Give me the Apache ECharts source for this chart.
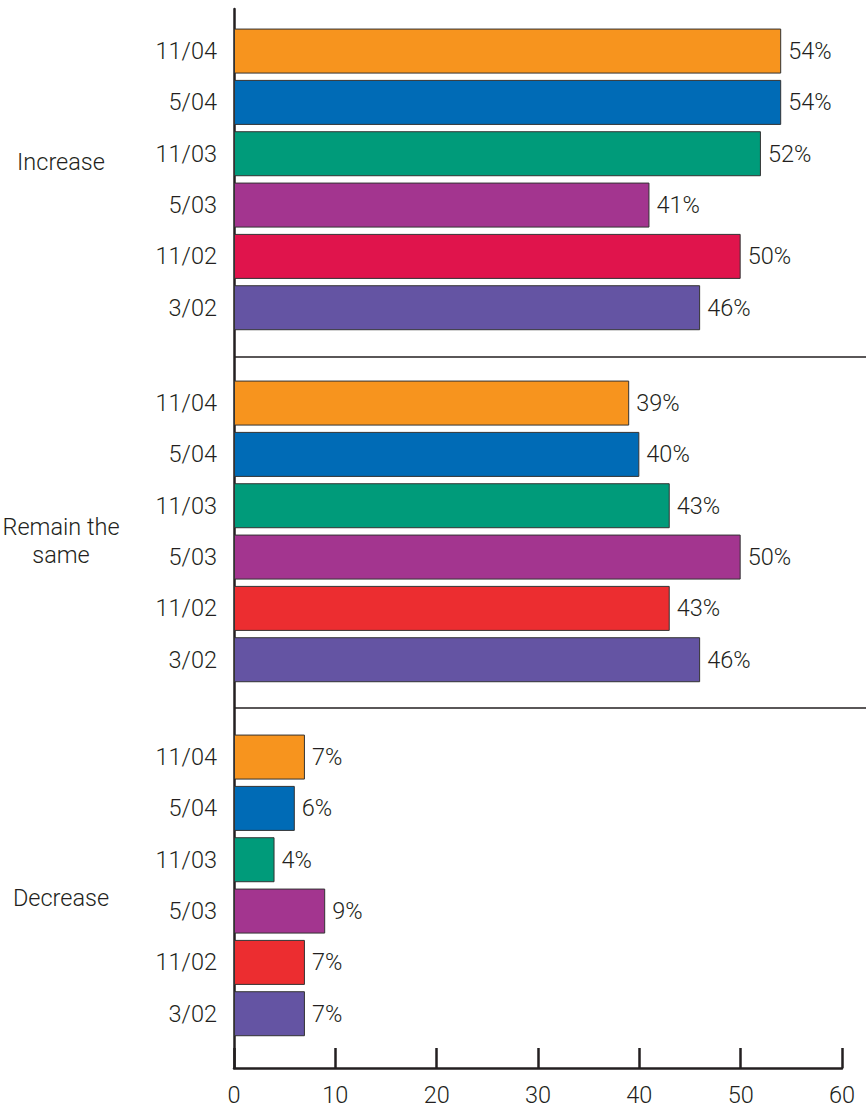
<!DOCTYPE html>
<html>
<head>
<meta charset="utf-8">
<title>Expectations: increase, remain the same, decrease</title>
<script src="https://cdn.jsdelivr.net/npm/echarts@6/dist/echarts.min.js"></script>
<style>
  html, body { margin: 0; padding: 0; background: #ffffff; }
  #chart { width: 866px; height: 1109px; }
</style>
</head>
<body>
<div id="chart"></div>
<script>
// Survey waves, listed top to bottom inside each group
const waves = ['11/04', '5/04', '11/03', '5/03', '11/02', '3/02'];

// Response groups
const groups = ['Increase', 'Remain the\nsame', 'Decrease'];

// Percent of respondents per wave
const increaseValues = [54, 54, 52, 41, 50, 46];
const remainValues = [39, 40, 43, 50, 43, 46];
const decreaseValues = [7, 6, 4, 9, 7, 7];

// Value axis ticks
const xTicks = [0, 10, 20, 30, 40, 50, 60];

// Wave colours (the 11/02 wave is crimson in the first group, red in the others)
const increaseColors = ['#F7941E', '#006BB6', '#009B7A', '#A3358F', '#E0144C', '#6454A3'];
const otherColors = ['#F7941E', '#006BB6', '#009B7A', '#A3358F', '#EC2D30', '#6454A3'];

const FONT = 'Roboto, "Liberation Sans", sans-serif';
const WEIGHT = 300;
const INK = '#231F20';
const FS = 23.5;

const groupValues = [increaseValues, remainValues, decreaseValues];
const groupColors = [increaseColors, otherColors, otherColors];

const chart = echarts.init(document.getElementById('chart'), null, { renderer: 'svg' });

const plotLeft = 234;
const plotWidth = 608;
const barGridTops = [25.4, 377.4, 731.4];
const barGridHeight = 308;
// spacer above / below each group title: [top spacer, bottom spacer]
const titleSpacers = [[0, 34], [20, 0], [26, 0]];

const grids = [
  // axes frame
  { left: plotLeft, width: plotWidth, top: 9, height: 1059, outerBoundsMode: 'none' },
  // group separators, running to the right edge
  { left: plotLeft, right: 0, top: 5.4, height: 1054, outerBoundsMode: 'none' }
];
barGridTops.forEach(t => grids.push({ left: plotLeft, width: plotWidth, top: t, height: barGridHeight, outerBoundsMode: 'none' }));

const xAxes = [
  {
    gridIndex: 0, type: 'value', min: xTicks[0], max: xTicks[xTicks.length - 1], interval: 10,
    axisLine: { show: true, onZero: false, lineStyle: { color: INK, width: 2.5 } },
    axisTick: { show: true, inside: true, length: 20, lineStyle: { color: INK, width: 2.5 } },
    axisLabel: { show: true, margin: 15, color: INK, fontSize: FS, fontFamily: FONT, fontWeight: WEIGHT },
    splitLine: { show: false }
  },
  { gridIndex: 1, type: 'value', show: false, min: 0, max: 1 }
];
const yAxes = [
  {
    gridIndex: 0, type: 'value', min: 0, max: 1,
    axisLine: { show: true, onZero: false, lineStyle: { color: INK, width: 2.5 } },
    axisTick: { show: false }, axisLabel: { show: false }, splitLine: { show: false }
  },
  {
    gridIndex: 1, type: 'value', min: 0, max: groups.length, interval: 1, inverse: true,
    axisLine: { show: false }, axisTick: { show: false }, axisLabel: { show: false },
    splitLine: { show: true, showMinLine: false, showMaxLine: false, lineStyle: { color: INK, width: 1.5 } }
  }
];
const series = [];

groups.forEach((g, gi) => {
  const gridIndex = gi + 2;
  const [padTop, padBottom] = titleSpacers[gi];
  const lines = g.split('\n').map(ln => '{t|' + ln + '}');
  if (padTop) lines.unshift('{top| }');
  if (padBottom) lines.push('{bottom| }');
  xAxes.push({ gridIndex, type: 'value', min: 0, max: 60, show: false });
  yAxes.push({
    gridIndex, type: 'category', data: waves, inverse: true,
    axisLine: { show: false }, axisTick: { show: false }, splitLine: { show: false },
    axisLabel: { show: true, margin: 17, color: INK, fontSize: FS, fontFamily: FONT, fontWeight: WEIGHT },
    name: lines.join('\n'), nameLocation: 'middle', nameRotate: 0, nameGap: 173, nameMoveOverlap: false,
    nameTextStyle: {
      color: INK, fontSize: FS, fontFamily: FONT, fontWeight: WEIGHT, align: 'center', verticalAlign: 'middle',
      rich: {
        t: { color: INK, fontSize: FS, fontFamily: FONT, fontWeight: WEIGHT, lineHeight: 28 },
        top: { fontSize: 8, lineHeight: padTop || 1 },
        bottom: { fontSize: 8, lineHeight: padBottom || 1 }
      }
    }
  });
  series.push({
    type: 'bar', xAxisIndex: gridIndex, yAxisIndex: gridIndex,
    data: groupValues[gi],
    barWidth: 45,
    itemStyle: {
      color: p => groupColors[gi][p.dataIndex],
      borderColor: '#333333', borderWidth: 1
    },
    label: {
      show: true, position: 'right', distance: 7, formatter: '{c}%',
      color: INK, fontSize: FS, fontFamily: FONT, fontWeight: WEIGHT
    },
    silent: true
  });
});

chart.setOption({
  animation: false,
  backgroundColor: '#ffffff',
  grid: grids,
  xAxis: xAxes,
  yAxis: yAxes,
  series: series
});
</script>
</body>
</html>
